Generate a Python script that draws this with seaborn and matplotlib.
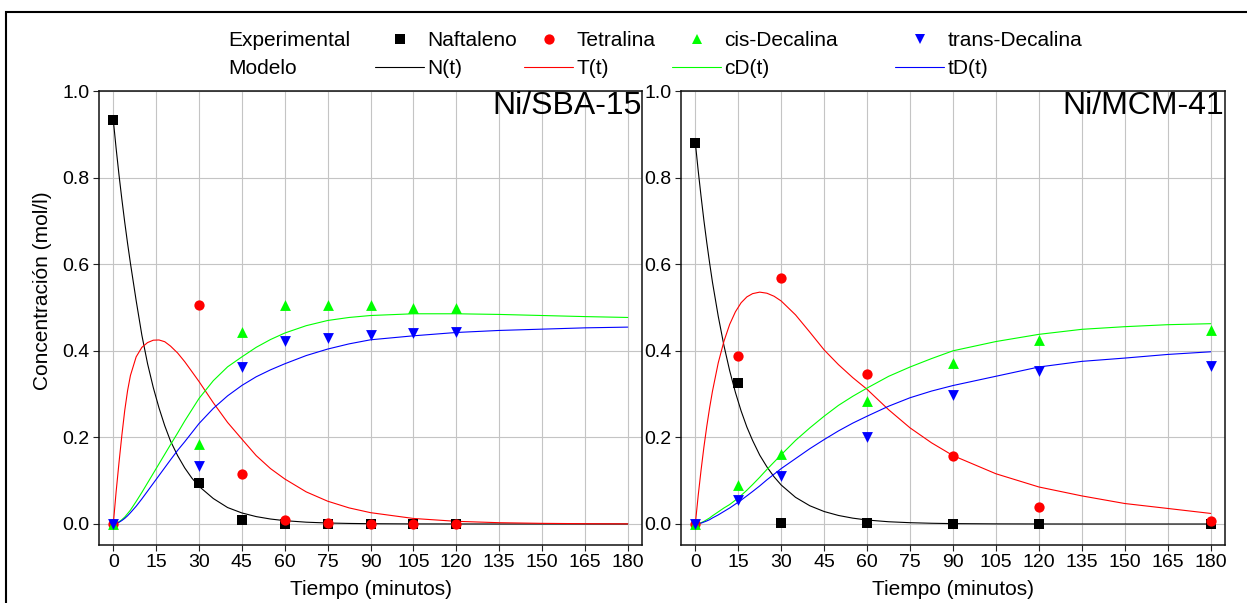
import matplotlib
matplotlib.use("Agg")
import matplotlib.pyplot as plt
from matplotlib.lines import Line2D
from matplotlib.patches import Rectangle
import seaborn as sns

# ---------------- experimental data (mol/l) ----------------
t_exp_sba = [0, 30, 45, 60, 75, 90, 105, 120]
naf_sba = [0.933, 0.095, 0.010, 0.001, 0.0, 0.0, 0.0, 0.0]
tet_sba = [0.0, 0.506, 0.115, 0.010, 0.002, 0.001, 0.001, 0.001]
cis_sba = [0.0, 0.184, 0.444, 0.505, 0.505, 0.505, 0.499, 0.498]
trans_sba = [0.0, 0.135, 0.362, 0.423, 0.430, 0.437, 0.440, 0.444]

t_exp_mcm = [0, 15, 30, 60, 90, 120, 180]
naf_mcm = [0.881, 0.325, 0.002, 0.002, 0.0, 0.0, 0.0]
tet_mcm = [0.0, 0.389, 0.568, 0.346, 0.156, 0.040, 0.006]
cis_mcm = [0.0, 0.089, 0.162, 0.284, 0.372, 0.425, 0.448]
trans_mcm = [0.0, 0.055, 0.110, 0.201, 0.298, 0.354, 0.364]

# ---------------- kinetic model curves ----------------
t_model = [0, 1, 2, 3, 4, 5, 6, 8, 10, 12, 14, 16, 18, 20, 22.5, 25, 27.5, 30,
           35, 40, 45, 50, 55, 60, 67.5, 75, 82.5, 90, 105, 120, 135, 150, 165, 180]

n_sba = [0.933, 0.867, 0.806, 0.750, 0.697, 0.648, 0.602, 0.516, 0.436, 0.370,
         0.315, 0.268, 0.227, 0.192, 0.158, 0.1295, 0.106, 0.087, 0.0588, 0.038,
         0.0255, 0.0171, 0.0115, 0.0077, 0.0042, 0.0023, 0.0013, 0.0007, 0.0002,
         0.0001, 0.0, 0.0, 0.0, 0.0]
tt_sba = [0.0, 0.075, 0.142, 0.205, 0.262, 0.308, 0.343, 0.386, 0.408, 0.419,
          0.4245, 0.425, 0.421, 0.411, 0.395, 0.3748, 0.352, 0.329, 0.280, 0.2345,
          0.196, 0.158, 0.128, 0.104, 0.0742, 0.0527, 0.0372, 0.0262, 0.0128,
          0.0062, 0.0030, 0.0015, 0.0007, 0.0003]
cd_sba = [0.0, 0.0015, 0.005, 0.010, 0.016, 0.024, 0.032, 0.052, 0.073, 0.095,
          0.117, 0.139, 0.161, 0.183, 0.210, 0.238, 0.264, 0.290, 0.331, 0.363,
          0.386, 0.408, 0.426, 0.441, 0.458, 0.470, 0.477, 0.4815, 0.4855,
          0.4855, 0.484, 0.4815, 0.479, 0.477]
td_sba = [0.0, 0.001, 0.004, 0.008, 0.013, 0.019, 0.026, 0.041, 0.058, 0.076,
          0.094, 0.112, 0.130, 0.148, 0.170, 0.190, 0.211, 0.232, 0.267, 0.296,
          0.320, 0.340, 0.356, 0.370, 0.389, 0.404, 0.416, 0.4254, 0.4346,
          0.4423, 0.447, 0.450, 0.453, 0.4547]

n_mcm = [0.881, 0.8165, 0.757, 0.701, 0.650, 0.6025, 0.558, 0.480, 0.412, 0.354,
         0.304, 0.261, 0.224, 0.193, 0.159, 0.132, 0.109, 0.090, 0.0616, 0.0421,
         0.0288, 0.0197, 0.0135, 0.0092, 0.0052, 0.0030, 0.0017, 0.0009, 0.0003,
         0.0001, 0.0, 0.0, 0.0, 0.0]
tt_mcm = [0.0, 0.0654, 0.124, 0.1776, 0.2255, 0.2685, 0.307, 0.372, 0.422, 0.461,
          0.490, 0.511, 0.5245, 0.532, 0.5355, 0.533, 0.526, 0.515, 0.483, 0.443,
          0.402, 0.368, 0.338, 0.311, 0.264, 0.222, 0.1875, 0.158, 0.116, 0.0855,
          0.0649, 0.0473, 0.0359, 0.0244]
cd_mcm = [0.0, 0.001, 0.003, 0.006, 0.010, 0.014, 0.019, 0.028, 0.037, 0.045,
          0.055, 0.066, 0.078, 0.091, 0.108, 0.126, 0.143, 0.160, 0.193, 0.222,
          0.249, 0.274, 0.295, 0.314, 0.341, 0.3626, 0.382, 0.400, 0.4214, 0.438,
          0.4496, 0.4557, 0.4603, 0.4626]
td_mcm = [0.0, 0.0007, 0.002, 0.0045, 0.007, 0.010, 0.014, 0.021, 0.029, 0.037,
          0.046, 0.055, 0.065, 0.075, 0.088, 0.102, 0.115, 0.128, 0.151, 0.174,
          0.195, 0.215, 0.233, 0.249, 0.272, 0.2916, 0.307, 0.3198, 0.3412, 0.3626,
          0.3756, 0.3832, 0.3916, 0.3977]

species = ["Naftaleno", "Tetralina", "cis-Decalina", "trans-Decalina"]
model_names = ["N(t)", "T(t)", "cD(t)", "tD(t)"]
x_ticks = list(range(0, 181, 15))
y_ticks = [0.0, 0.2, 0.4, 0.6, 0.8, 1.0]

# ---------------- styling ----------------
colors = ["#000000", "#ff0000", "#00ff00", "#0000ff"]
markers = ["s", "o", "^", "v"]
marker_pt = [6.6, 7.4, 7.8, 7.8]

sns.set_style("white")
plt.rcParams["font.family"] = ["Liberation Sans", "DejaVu Sans"]
plt.rcParams["text.color"] = "black"
plt.rcParams["axes.labelcolor"] = "black"
plt.rcParams["xtick.color"] = "black"
plt.rcParams["ytick.color"] = "black"

W, H = 1247, 603
fig = plt.figure(figsize=(W / 100, H / 100), dpi=100)
fig.patch.set_facecolor("white")

ax_l = fig.add_axes([99 / W, 1 - 545 / H, 543 / W, 454 / H])
ax_r = fig.add_axes([681 / W, 1 - 545 / H, 544 / W, 454 / H])


def draw_panel(ax, t_exp, exp_series, mod_series, title):
    for vals, c in zip(mod_series, colors):
        sns.lineplot(x=t_model, y=vals, ax=ax, color=c, linewidth=0.8,
                     estimator=None, sort=False, legend=False, zorder=2)
    for vals, c, m, ms in zip(exp_series, colors, markers, marker_pt):
        sns.scatterplot(x=t_exp, y=vals, ax=ax, color=c, marker=m, s=ms ** 2,
                        linewidth=0, legend=False, zorder=3)
    ax.set_xlim(-5, 185)
    ax.set_ylim(-0.0485, 1.0)
    ax.set_xticks(x_ticks)
    ax.set_yticks(y_ticks)
    ax.set_yticklabels([f"{v:.1f}" for v in y_ticks])
    ax.grid(True, color="#c4c4c4", linewidth=0.8)
    ax.set_axisbelow(True)
    ax.tick_params(axis="both", direction="out", length=4.3, width=0.8,
                   color="#222222", labelcolor="black", labelsize=14, pad=2.5,
                   bottom=True, left=True, top=False, right=False)
    for sp in ax.spines.values():
        sp.set_visible(True)
        sp.set_color("#111111")
        sp.set_linewidth(1.1)
    ax.set_xlabel("Tiempo (minutos)", fontsize=15)
    ax.xaxis.set_label_coords(0.5, -0.078)
    ax.set_ylabel("")
    ax.text(0.999, 1.0, title, transform=ax.transAxes, ha="right", va="top",
            fontsize=23)


draw_panel(ax_l, t_exp_sba, [naf_sba, tet_sba, cis_sba, trans_sba],
           [n_sba, tt_sba, cd_sba, td_sba], "Ni/SBA-15")
draw_panel(ax_r, t_exp_mcm, [naf_mcm, tet_mcm, cis_mcm, trans_mcm],
           [n_mcm, tt_mcm, cd_mcm, td_mcm], "Ni/MCM-41")

ax_l.set_ylabel("Concentración (mol/l)", fontsize=15)
ax_l.yaxis.set_label_coords(-0.086, 0.56)

# ---------------- legend block ----------------
row_y = [41, 68.5]
col_x = [375, 524, 672, 895]
fig.text(228 / W, 1 - row_y[0] / H, "Experimental", fontsize=15, va="center", ha="left")
fig.text(228 / W, 1 - row_y[1] / H, "Modelo", fontsize=15, va="center", ha="left")

for i in range(4):
    h_pt = Line2D([], [], linestyle="none", marker=markers[i], color=colors[i],
                  markersize=marker_pt[i], markeredgewidth=0)
    h_ln = Line2D([], [], color=colors[i], linewidth=0.8)
    for h, lab, ry in ((h_pt, species[i], row_y[0]), (h_ln, model_names[i], row_y[1])):
        fig.legend(handles=[h], labels=[lab], loc="center left",
                   bbox_to_anchor=(col_x[i] / W, 1 - ry / H),
                   frameon=False, borderpad=0, borderaxespad=0,
                   handlelength=2.36, handletextpad=0.15, fontsize=15,
                   numpoints=1)

# outer frame line (top and left edges)
fig.add_artist(Rectangle((6 / W, -0.5), 2.0, 0.5 + (1 - 12 / H),
                         transform=fig.transFigure, fill=False,
                         edgecolor="black", linewidth=1.5, clip_on=False))

fig.savefig("out.png", dpi=100)
